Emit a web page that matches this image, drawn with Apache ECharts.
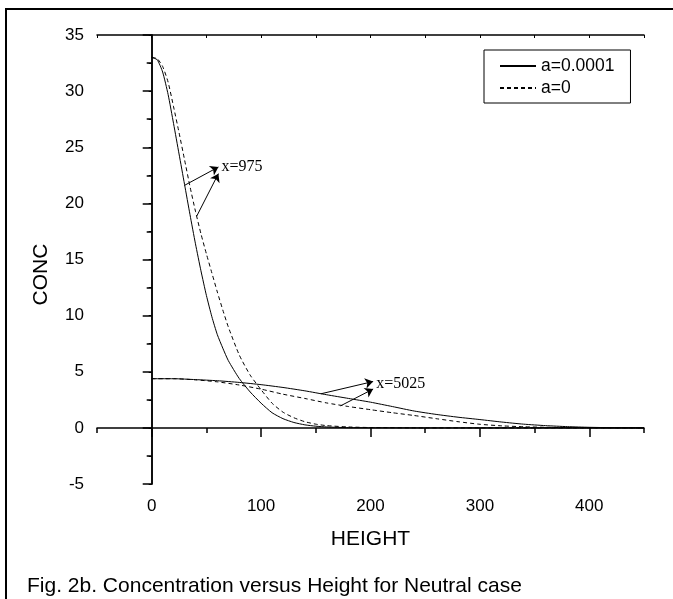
<!DOCTYPE html>
<html>
<head>
<meta charset="utf-8">
<title>Concentration versus Height</title>
<script src="https://cdn.jsdelivr.net/npm/echarts@6/dist/echarts.min.js"></script>
<style>
  html, body { margin: 0; padding: 0; background: #fff; }
  #chart { width: 673px; height: 599px; }
</style>
</head>
<body>
<div id="chart"></div>
<script>
// curves near the source, x=975
var heightNear = [0, 5, 10, 15, 20, 25, 30, 35, 40, 45, 50, 55, 60, 65, 70, 80, 90, 100, 110, 120, 130, 140, 150, 160, 180, 200, 250, 300, 350, 400, 450];
var concNearA1 = [33.0, 32.8, 31.7, 29.7, 27.1, 24.4, 21.7, 19.0, 16.4, 14.0, 11.8, 9.9, 8.3, 7.1, 6.0, 4.4, 3.2, 2.2, 1.35, 0.82, 0.48, 0.27, 0.15, 0.08, 0.02, 0.01, 0, 0, 0, 0, 0];
var concNearA0 = [33.0, 32.9, 32.2, 30.8, 28.6, 26.3, 23.9, 21.5, 19.3, 17.3, 15.5, 13.8, 12.1, 10.5, 9.0, 6.5, 4.7, 3.4, 2.2, 1.4, 0.9, 0.55, 0.33, 0.2, 0.08, 0.03, 0, 0, 0, 0, 0];

// curves far from the source, x=5025
var heightFar = [0, 20, 40, 60, 80, 100, 120, 140, 160, 180, 200, 220, 240, 260, 280, 300, 320, 340, 360, 380, 400, 420, 450];
var concFarA1 = [4.38, 4.38, 4.3, 4.2, 4.05, 3.85, 3.6, 3.3, 2.95, 2.62, 2.29, 1.9, 1.5, 1.2, 0.95, 0.74, 0.52, 0.33, 0.2, 0.11, 0.05, 0.02, 0];
var concFarA0 = [4.38, 4.38, 4.28, 4.1, 3.82, 3.45, 3.0, 2.62, 2.22, 1.9, 1.62, 1.35, 1.1, 0.82, 0.55, 0.32, 0.18, 0.1, 0.05, 0.02, 0.01, 0.005, 0];

var legendNames = ['a=0.0001', 'a=0'];
var majorX = [0, 100, 200, 300, 400];

// arrows: [from, to] in data units
var arrowsNear = [[[29.9, 21.6], [61.0, 23.24]], [[41.2, 18.87], [61.0, 22.65]]];
var arrowsFar = [[[154.8, 3.04], [202.4, 4.13]], [[172.6, 1.96], [202.4, 3.46]]];
var notes = [{ name: 'x=975', coord: [61.0, 23.28] }, { name: 'x=5025', coord: [202.4, 3.93] }];

function zip(xs, ys) {
  return xs.map(function (x, i) { return [x, ys[i]]; });
}

function arrowData(list) {
  return list.map(function (a) {
    return [{ coord: a[0] }, { coord: a[1] }];
  });
}

var font = 'Liberation Sans, Arial, sans-serif';
var solid = { color: '#000', width: 1, type: 'solid' };
var dashed = { color: '#000', width: 1, type: [4, 3] };

var chart = echarts.init(document.getElementById('chart'));

function curve(name, xs, ys, style) {
  return {
    name: name,
    type: 'line',
    data: zip(xs, ys),
    smooth: 0.2,
    symbol: 'none',
    lineStyle: style,
    itemStyle: { color: '#000' }
  };
}

var first = curve(legendNames[0], heightNear, concNearA1, solid);
first.markLine = {
  silent: true,
  symbol: ['none', 'arrow'],
  symbolSize: 8,
  label: { show: false },
  lineStyle: { color: '#000', width: 1, type: 'solid' },
  data: arrowData(arrowsNear.concat(arrowsFar))
};
first.markPoint = {
  silent: true,
  symbol: 'circle',
  symbolSize: 0,
  label: {
    show: true,
    position: 'right',
    distance: 3,
    formatter: '{b}',
    fontFamily: 'Liberation Serif, Times New Roman, serif',
    fontSize: 16,
    color: '#000'
  },
  data: notes
};

var option = {
  animation: false,
  backgroundColor: '#fff',
  title: {
    text: 'Fig. 2b. Concentration versus Height for Neutral case',
    left: 27,
    top: 576,
    padding: 0,
    textStyle: { fontFamily: font, fontSize: 21, fontWeight: 'normal', color: '#000', lineHeight: 21 }
  },
  graphic: [{
    type: 'rect',
    shape: { x: 6, y: 9, width: 720, height: 700 },
    style: { fill: 'none', stroke: '#000', lineWidth: 2 },
    silent: true
  }],
  legend: {
    data: legendNames,
    orient: 'vertical',
    left: 484,
    top: 50,
    padding: [7, 16, 6, 15],
    itemGap: 4,
    itemWidth: 36,
    itemHeight: 14,
    borderColor: '#000',
    borderWidth: 1,
    selectedMode: false,
    itemStyle: { opacity: 0 },
    textStyle: { fontFamily: font, fontSize: 17.5, lineHeight: 18, color: '#000' }
  },
  grid: { left: 97, right: 29, top: 35, bottom: 115 },
  xAxis: [{
    type: 'value',
    min: -50,
    max: 450,
    interval: 50,
    name: 'HEIGHT',
    nameLocation: 'middle',
    nameGap: 45,
    nameTextStyle: { fontFamily: font, fontSize: 21, color: '#000' },
    axisLine: { lineStyle: { color: '#000', width: 1.5 } },
    axisTick: { length: 5, lineStyle: { color: '#000', width: 1.5 } },
    axisLabel: {
      margin: 14,
      fontFamily: font,
      fontSize: 17,
      color: '#000',
      formatter: function (v) { return v % 100 === 0 ? v : ''; }
    },
    splitLine: { show: false }
  }, {
    type: 'value',
    position: 'bottom',
    min: -50,
    max: 450,
    axisLine: { show: false },
    axisTick: { customValues: majorX, length: 9, lineStyle: { color: '#000', width: 1.5 } },
    axisLabel: { show: false },
    splitLine: { show: false }
  }, {
    type: 'value',
    position: 'top',
    min: -50,
    max: 450,
    interval: 50,
    axisLine: { lineStyle: { color: '#000', width: 1.5 } },
    axisTick: { inside: true, length: 3, lineStyle: { color: '#000', width: 1 } },
    axisLabel: { show: false },
    splitLine: { show: false }
  }],
  yAxis: [{
    type: 'value',
    min: -5,
    max: 35,
    interval: 5,
    name: 'CONC',
    nameLocation: 'middle',
    nameGap: 45,
    nameTextStyle: { fontFamily: font, fontSize: 21, color: '#000', padding: [0, 30, 0, 0] },
    axisLine: { lineStyle: { color: '#000', width: 1.5 } },
    axisTick: { length: 9, lineStyle: { color: '#000', width: 1.5 } },
    minorTick: { show: true, splitNumber: 2, length: 5, lineStyle: { color: '#000', width: 1.5 } },
    axisLabel: { margin: 13, fontFamily: font, fontSize: 17, color: '#000' },
    splitLine: { show: false }
  }, {
    type: 'value',
    position: 'right',
    min: -5,
    max: 35,
    interval: 2.5,
    axisLine: { lineStyle: { color: '#000', width: 1.5 } },
    axisTick: { inside: true, length: 3, lineStyle: { color: '#000', width: 1 } },
    axisLabel: { show: false },
    splitLine: { show: false }
  }],
  series: [
    first,
    curve(legendNames[1], heightNear, concNearA0, dashed),
    curve(legendNames[0], heightFar, concFarA1, solid),
    curve(legendNames[1], heightFar, concFarA0, dashed)
  ]
};

chart.setOption(option);
</script>
</body>
</html>
